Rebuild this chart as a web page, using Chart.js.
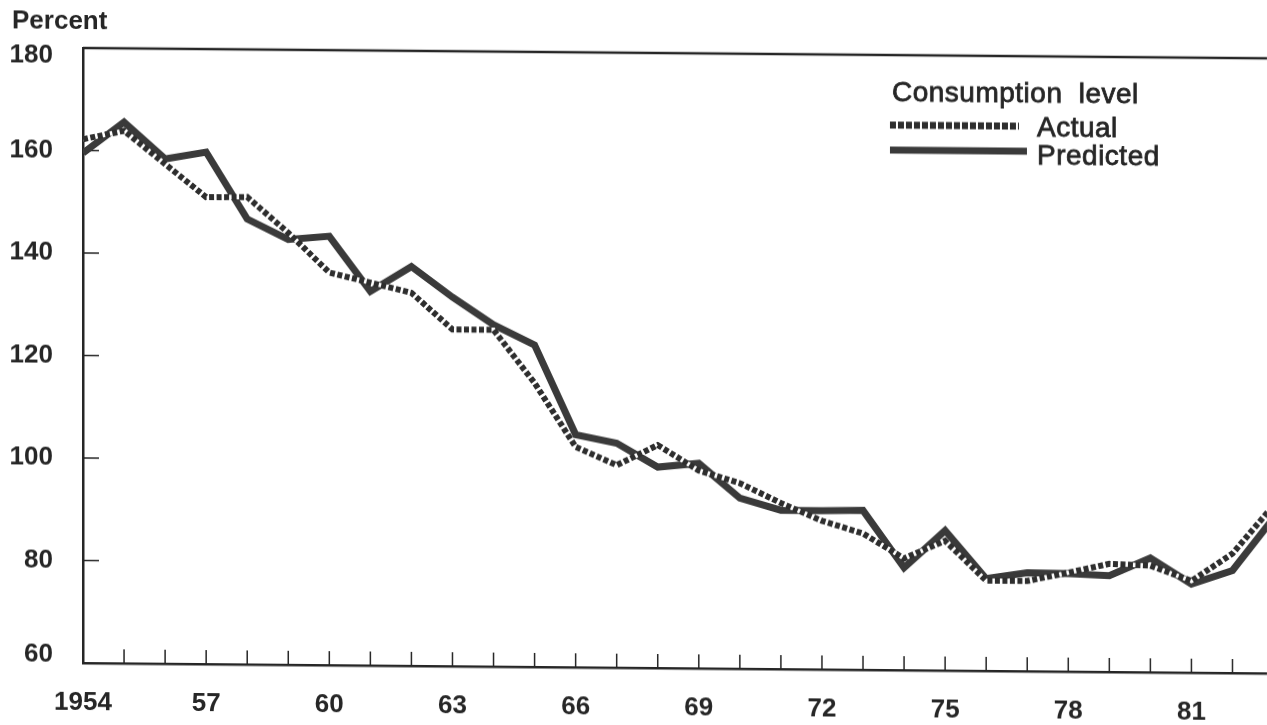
<!DOCTYPE html>
<html>
<head>
<meta charset="utf-8">
<title>Consumption level</title>
<script src="https://cdn.jsdelivr.net/npm/chart.js@4/dist/chart.umd.min.js"></script>
<style>
  html, body { margin: 0; padding: 0; background: #fff; overflow: hidden; }
  #grafico {
    display: block;
    transform: skewY(0.5deg);
    transform-origin: 83px 663px;
  }
</style>
</head>
<body>
<canvas id="grafico" width="1267" height="725"></canvas>
<script>
// años y series
var anios = [1954, 1955, 1956, 1957, 1958, 1959, 1960, 1961, 1962, 1963,
             1964, 1965, 1966, 1967, 1968, 1969, 1970, 1971, 1972, 1973,
             1974, 1975, 1976, 1977, 1978, 1979, 1980, 1981, 1982, 1983];

var actual = [162.2, 163.9, 157.5, 151.1, 151.2, 144.3, 136.6, 134.7, 132.8, 125.7,
              125.7, 115.4, 103.0, 99.5, 103.5, 98.6, 96.2, 92.4, 89.0, 86.6,
              81.8, 85.3, 77.6, 77.6, 79.3, 81.1, 80.8, 77.9, 83.3, 92.8];

var predicted = [159.5, 165.6, 158.5, 159.9, 146.9, 143.0, 143.7, 133.0, 137.9, 132.0,
                 126.7, 122.8, 105.4, 103.8, 99.2, 100.0, 93.3, 91.0, 91.0, 91.1,
                 80.0, 87.3, 78.0, 79.2, 79.1, 78.8, 82.3, 77.3, 80.0, 90.3];

var ticksY = [60, 80, 100, 120, 140, 160, 180];
var etiquetasX = [1954, 1957, 1960, 1963, 1966, 1969, 1972, 1975, 1978, 1981];

var tinta = '#262626';
var fuente = "'Liberation Sans', Arial, sans-serif";

function puntos(serie) {
    var out = [];
    for (var i = 0; i < anios.length; i++) {
        out.push({ x: anios[i], y: serie[i] });
    }
    return out;
}

// texto un poco mas grueso que el normal
function textoGrueso(ctx, txt, x, y) {
    ctx.fillText(txt, x, y);
    ctx.strokeText(txt, x, y);
}

// marco superior, marcas hacia adentro, etiquetas del eje y, leyenda
var marco = {
    id: 'marco',
    beforeDatasetsDraw: function (chart) {
        var ctx = chart.ctx;
        var area = chart.chartArea;
        var x = chart.scales.x;
        var y = chart.scales.y;

        ctx.save();
        ctx.strokeStyle = tinta;
        ctx.lineWidth = 2.5;
        ctx.beginPath();
        ctx.moveTo(area.left, area.top);
        ctx.lineTo(area.right, area.top);
        ctx.stroke();

        ctx.lineWidth = 1.5;
        ctx.beginPath();
        for (var i = 1; i < anios.length; i++) {
            var px = x.getPixelForValue(anios[i]);
            if (px > area.right) continue;
            ctx.moveTo(px, area.bottom);
            ctx.lineTo(px, area.bottom - 14);
        }
        for (var j = 1; j < ticksY.length - 1; j++) {
            var py = y.getPixelForValue(ticksY[j]);
            ctx.moveTo(area.left, py);
            ctx.lineTo(area.left + 16, py);
        }
        ctx.stroke();

        // etiquetas del eje y; las de los extremos quedan hacia adentro
        ctx.fillStyle = tinta;
        ctx.font = 'bold 26px ' + fuente;
        ctx.textAlign = 'right';
        ctx.textBaseline = 'middle';
        for (var k = 0; k < ticksY.length; k++) {
            var v = ticksY[k];
            var ajuste = 0;
            if (k === 0) ajuste = -8;
            if (k === ticksY.length - 1) ajuste = 8;
            ctx.fillText(String(v), area.left - 30, y.getPixelForValue(v) + ajuste);
        }
        ctx.restore();
    },
    afterDraw: function (chart) {
        var ctx = chart.ctx;
        var sets = chart.data.datasets;
        ctx.save();
        ctx.fillStyle = tinta;
        ctx.strokeStyle = tinta;
        ctx.textBaseline = 'middle';
        ctx.textAlign = 'left';
        ctx.font = 'bold 26px ' + fuente;
        ctx.fillText('Percent', 12, 22);

        ctx.font = '28px ' + fuente;
        ctx.lineWidth = 0.8;
        ctx.letterSpacing = '0.5px';
        ctx.wordSpacing = '8px';
        textoGrueso(ctx, 'Consumption level', 892, 86);
        ctx.wordSpacing = '0px';
        textoGrueso(ctx, 'Actual', 1037, 120);
        textoGrueso(ctx, 'Predicted', 1037, 148);

        // muestras de linea
        ctx.strokeStyle = sets[2].borderColor;
        ctx.lineWidth = 7;
        ctx.setLineDash([6, 2]);
        ctx.beginPath();
        ctx.moveTo(890, 118);
        ctx.lineTo(1019, 118);
        ctx.stroke();

        ctx.setLineDash([]);
        ctx.strokeStyle = sets[0].borderColor;
        ctx.lineWidth = 7;
        ctx.beginPath();
        ctx.moveTo(890, 143);
        ctx.lineTo(1027, 143);
        ctx.stroke();
        ctx.restore();
    }
};

var ctx = document.getElementById('grafico');

new Chart(ctx, {
    type: 'line',
    data: {
        datasets: [{
            label: 'Predicted',
            data: puntos(predicted),
            borderColor: '#3a3a3a',
            borderWidth: 7,
            pointRadius: 0,
            tension: 0,
            order: 2
        }, {
            // fondo blanco bajo la linea punteada
            label: 'Actual fondo',
            data: puntos(actual),
            borderColor: '#ffffff',
            borderWidth: 4.5,
            pointRadius: 0,
            tension: 0,
            order: 1
        }, {
            label: 'Actual',
            data: puntos(actual),
            borderColor: '#2e2e2e',
            borderWidth: 6,
            borderDash: [5, 2.5],
            borderCapStyle: 'butt',
            pointRadius: 0,
            tension: 0,
            order: 0
        }]
    },
    options: {
        responsive: false,
        animation: false,
        events: [],
        layout: {
            padding: { top: 48, right: 0, left: 0, bottom: 0 }
        },
        plugins: {
            legend: { display: false },
            tooltip: { enabled: false }
        },
        scales: {
            x: {
                type: 'linear',
                min: 1954,
                max: 1982.84,
                afterBuildTicks: function (scale) {
                    scale.ticks = etiquetasX.map(function (v) { return { value: v }; });
                },
                afterFit: function (scale) { scale.height = 62; },
                grid: { display: false, drawTicks: false },
                border: { display: true, color: tinta, width: 2.5 },
                ticks: {
                    autoSkip: false,
                    maxRotation: 0,
                    padding: 24,
                    color: tinta,
                    font: { family: fuente, size: 26, weight: 'bold' },
                    callback: function (v) {
                        return v === 1954 ? '1954' : String(v).slice(2);
                    }
                }
            },
            y: {
                min: 60,
                max: 180,
                afterBuildTicks: function (scale) {
                    scale.ticks = ticksY.map(function (v) { return { value: v }; });
                },
                afterFit: function (scale) { scale.width = 83; },
                grid: { display: false, drawTicks: false },
                border: { display: true, color: tinta, width: 2.5 },
                ticks: { display: false }
            }
        }
    },
    plugins: [marco]
});
</script>
</body>
</html>
